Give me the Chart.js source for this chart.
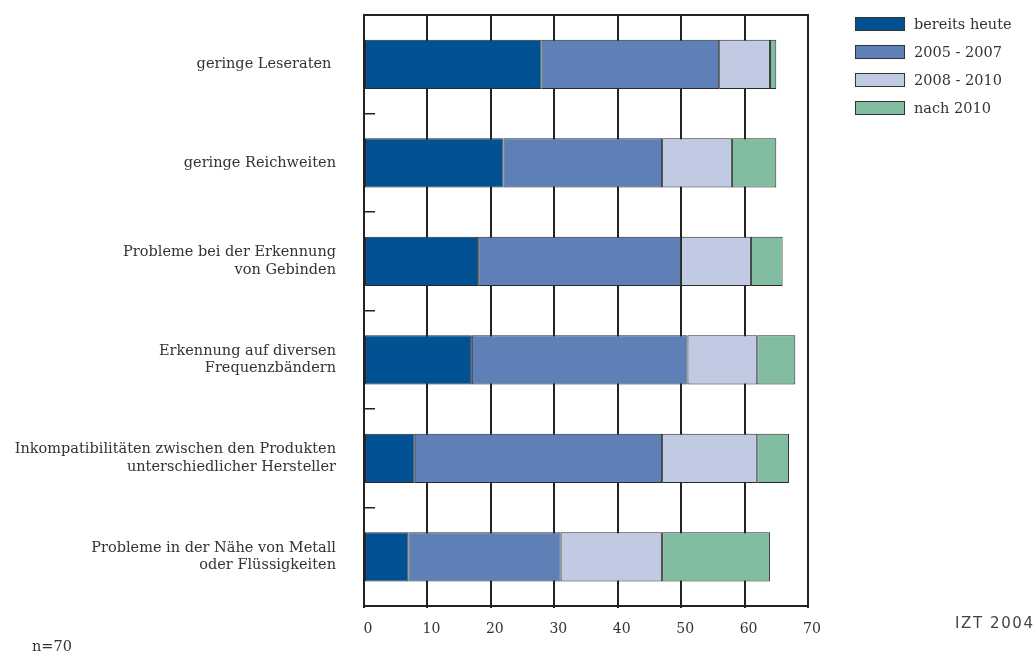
<!DOCTYPE html>
<html lang="de">
<head>
    <meta charset="UTF-8">
    <title>Probleme RFID</title>
    <script src="https://cdn.jsdelivr.net/npm/chart.js"></script>
    <style>
        body { margin: 0; background: #fff; }
        #wrap { position: relative; width: 1036px; height: 653px; }
        #legend { position: absolute; left: 855px; top: 10px; font: 14.5px "DejaVu Serif", serif; color: #333; }
        .item { display: flex; align-items: center; height: 28px; }
        .box { width: 50px; height: 14px; border: 1px solid #333; margin-right: 9px; box-sizing: border-box; }
        #n { position: absolute; left: 32px; top: 638px; font: 14.5px "DejaVu Serif", serif; color: #333; }
        #src { position: absolute; left: 955px; top: 614px; font: 15px "DejaVu Sans", sans-serif; letter-spacing: 1.6px; color: #444; }
    </style>
</head>
<body>
<div id="wrap">
    <canvas id="chart" width="1036" height="653"></canvas>
    <div id="legend"></div>
    <div id="n">n=70</div>
    <div id="src">IZT 2004</div>
</div>
<script>
    const categories = [
        ['geringe Leseraten '],
        ['geringe Reichweiten'],
        ['Probleme bei der Erkennung', 'von Gebinden'],
        ['Erkennung auf diversen', 'Frequenzbändern'],
        ['Inkompatibilitäten zwischen den Produkten', 'unterschiedlicher Hersteller'],
        ['Probleme in der Nähe von Metall', 'oder Flüssigkeiten']
    ];
    const seriesNames = ['bereits heute', '2005 - 2007', '2008 - 2010', 'nach 2010'];
    const bereitsHeute = [28, 22, 18, 17, 8, 7];
    const jahre2005bis2007 = [28, 25, 32, 34, 39, 24];
    const jahre2008bis2010 = [8, 11, 11, 11, 15, 16];
    const nach2010 = [1, 7, 5, 6, 5, 17];
    const colors = ['#025293', '#5e80b6', '#c0cae3', '#82bca1'];

    const values = [bereitsHeute, jahre2005bis2007, jahre2008bis2010, nach2010];

    // top border of the plot frame
    const framePlugin = {
        id: 'frame',
        afterDraw(chart) {
            const { ctx, chartArea } = chart;
            ctx.save();
            ctx.strokeStyle = '#222';
            ctx.lineWidth = 2;
            ctx.beginPath();
            ctx.moveTo(chartArea.left - 1, chartArea.top);
            ctx.lineTo(chartArea.right + 1, chartArea.top);
            ctx.stroke();
            ctx.restore();
        }
    };

    new Chart(document.getElementById('chart'), {
        type: 'bar',
        data: {
            labels: categories,
            datasets: values.map((data, i) => ({
                label: seriesNames[i],
                data,
                backgroundColor: colors[i],
                borderColor: '#2a2a2a',
                borderWidth: 1,
                borderSkipped: false,
                barPercentage: 1,
                categoryPercentage: 0.5
            }))
        },
        options: {
            indexAxis: 'y',
            responsive: false,
            animation: false,
            layout: { padding: { top: 15, right: 228, bottom: 0, left: 0 } },
            plugins: { legend: { display: false }, tooltip: { enabled: false } },
            scales: {
                x: {
                    stacked: true,
                    min: 0,
                    max: 70,
                    ticks: {
                        stepSize: 10,
                        padding: 13,
                        labelOffset: 4,
                        color: '#333',
                        font: { family: 'DejaVu Serif', size: 14 }
                    },
                    grid: { color: '#222', lineWidth: 2, tickLength: 2 },
                    border: { color: '#222', width: 2 },
                    afterFit(scale) { scale.height = 47; }
                },
                y: {
                    stacked: true,
                    ticks: {
                        padding: 39,
                        color: '#333',
                        font: { family: 'DejaVu Serif', size: 14.5, lineHeight: 1.2 }
                    },
                    grid: { drawOnChartArea: false, tickLength: -11, color: '#222', lineWidth: 1.5 },
                    border: { color: '#222', width: 2 },
                    afterFit(scale) {
                        scale.width = 364;
                        scale.paddingTop = 0;
                        scale.paddingBottom = 0;
                    }
                }
            }
        },
        plugins: [framePlugin]
    });

    const legend = document.getElementById('legend');
    seriesNames.forEach((name, i) => {
        const item = document.createElement('div');
        item.className = 'item';
        item.innerHTML = '<span class="box" style="background:' + colors[i] + '"></span>' + name;
        legend.appendChild(item);
    });
</script>
</body>
</html>
